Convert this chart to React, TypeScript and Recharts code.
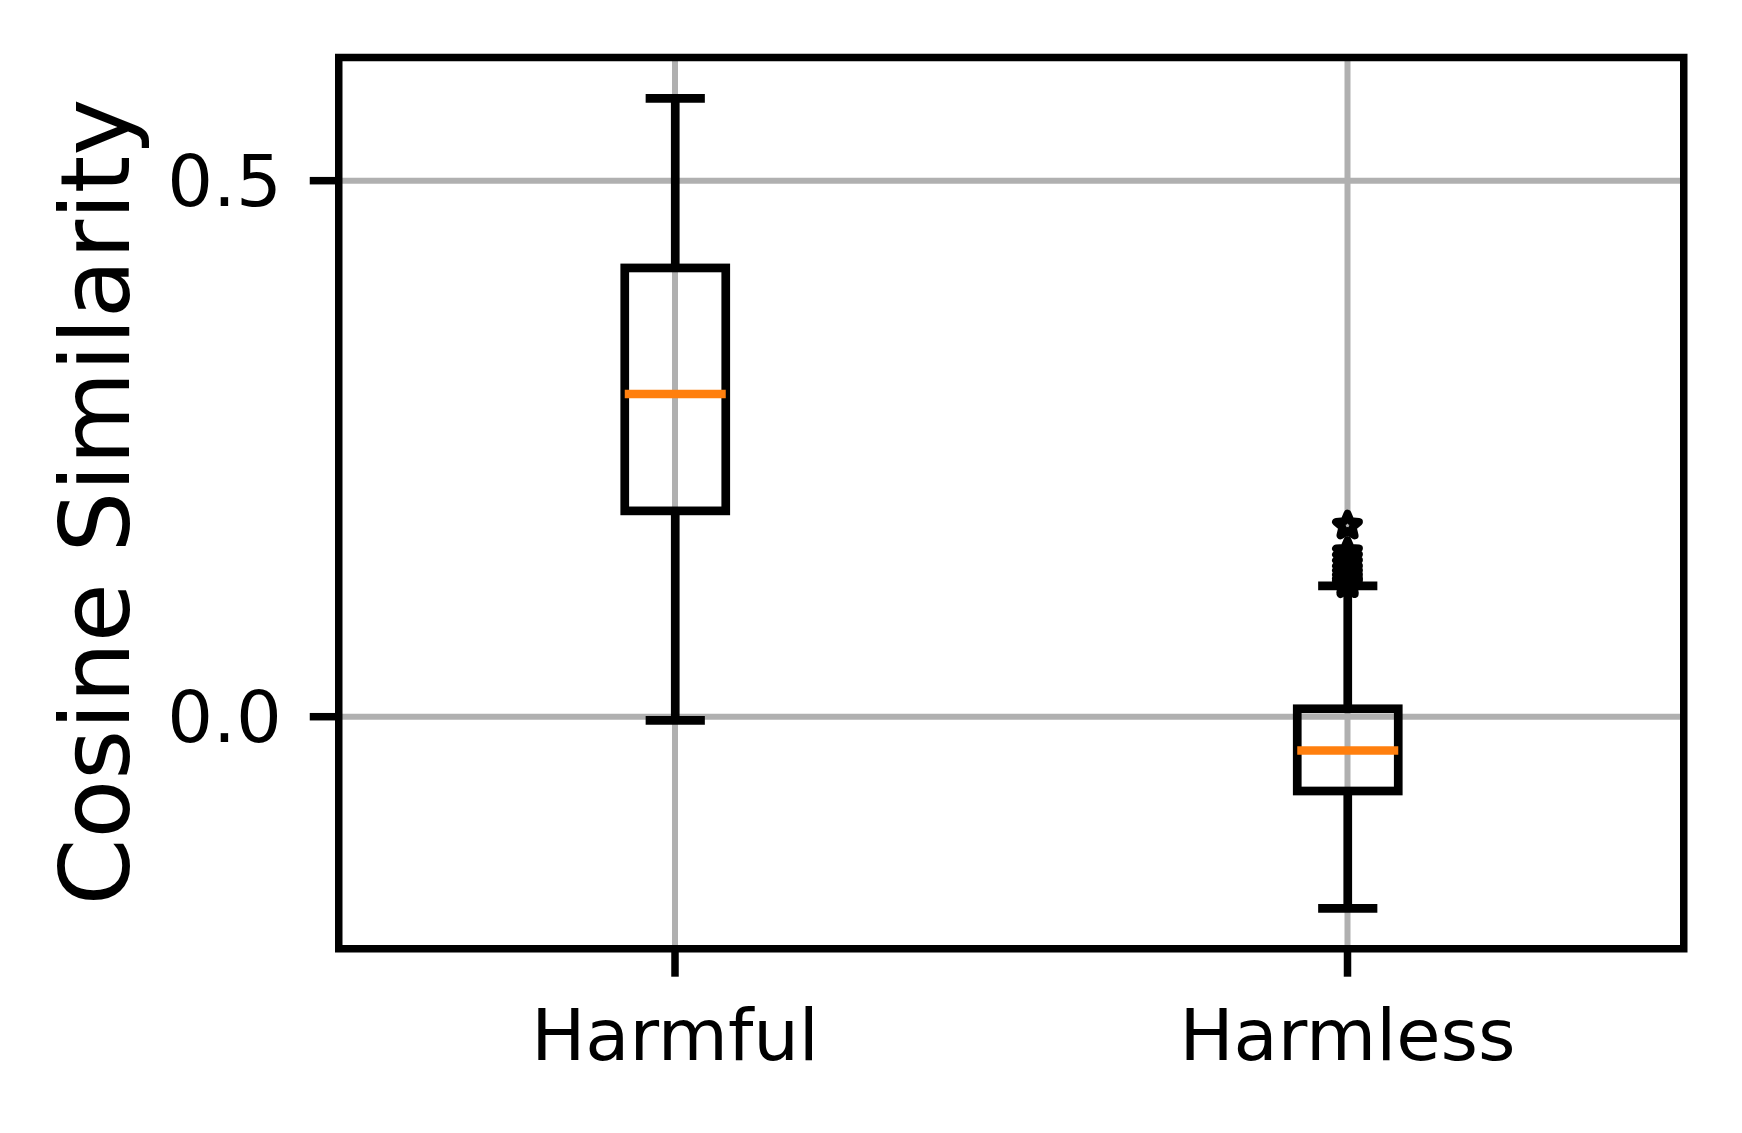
import { ComposedChart, Bar, Scatter, XAxis, YAxis, CartesianGrid, ReferenceArea, Label } from 'recharts'

// box plot stats
const categories = ['Harmful', 'Harmless']
const whiskerLow = [-0.0034, -0.1787]
const boxQ1 = [0.192, -0.0693]
const medians = [0.301, -0.0315]
const boxQ3 = [0.4186, 0.0074]
const whiskerHigh = [0.5767, 0.1221]
const harmlessOutliers = [0.1782, 0.1534, 0.1478, 0.1425, 0.1372, 0.133, 0.129, 0.1255, 0.1235]

const yTicks = [0, 0.5]
const yDomain: [number, number] = [-0.2164, 0.6149]

const boxData = categories.map((name, i) => ({
  name,
  range: [whiskerLow[i], whiskerHigh[i]],
  lo: whiskerLow[i],
  q1: boxQ1[i],
  med: medians[i],
  q3: boxQ3[i],
  hi: whiskerHigh[i],
}))

const outlierData = harmlessOutliers.map((v) => ({ name: 'Harmless', v }))

const FONT = 'DejaVu Sans'
const LW = 7.5 // spines, ticks
const BOX_LW = 8.7 // box, whiskers, caps, median

const BoxShape = (props: any) => {
  const { x, y, width, height, payload } = props
  const { lo, q1, med, q3, hi } = payload
  const top = Math.min(y, y + height)
  const h = Math.abs(height)
  const k = h / (hi - lo)
  const py = (v: number) => top + (hi - v) * k
  const cx = x + width / 2
  const cap = width / 4
  return (
    <g>
      <line x1={cx} x2={cx} y1={py(q3)} y2={py(hi)} stroke="#000" strokeWidth={BOX_LW} />
      <line x1={cx} x2={cx} y1={py(q1)} y2={py(lo)} stroke="#000" strokeWidth={BOX_LW} />
      <line x1={cx - cap} x2={cx + cap} y1={py(hi)} y2={py(hi)} stroke="#000" strokeWidth={BOX_LW} strokeLinecap="square" />
      <line x1={cx - cap} x2={cx + cap} y1={py(lo)} y2={py(lo)} stroke="#000" strokeWidth={BOX_LW} strokeLinecap="square" />
      <rect x={x} y={py(q3)} width={width} height={py(q1) - py(q3)} fill="none" stroke="#000" strokeWidth={BOX_LW} />
      <line x1={x} x2={x + width} y1={py(med)} y2={py(med)} stroke="#ff7f0e" strokeWidth={BOX_LW} />
    </g>
  )
}

const Star = (props: any) => {
  const { cx, cy } = props
  const R = 12
  const pts: string[] = []
  for (let i = 0; i < 10; i++) {
    const r = i % 2 ? R * 0.45 : R
    const a = -Math.PI / 2 + (i * Math.PI) / 5
    pts.push(`${cx + r * Math.cos(a)},${cy + r * Math.sin(a)}`)
  }
  return <polygon points={pts.join(' ')} fill="none" stroke="#000" strokeWidth={8} strokeLinejoin="round" />
}

export default function App() {
  return (
    <div style={{ position: 'absolute', left: 0, top: 0 }}>
      <ComposedChart
        width={1742}
        height={1133}
        data={boxData}
        margin={{ top: 57.5, right: 58.25, bottom: 0, left: 0 }}
      >
        <CartesianGrid stroke="#b0b0b0" strokeWidth={6} />
        <XAxis
          dataKey="name"
          type="category"
          allowDuplicatedCategory={false}
          height={184.3}
          axisLine={false}
          tickSize={28}
          tickMargin={32}
          tickLine={{ stroke: '#000', strokeWidth: LW }}
          tick={{ fill: '#000', fontSize: 72, fontFamily: FONT }}
        />
        <YAxis
          type="number"
          domain={yDomain}
          allowDataOverflow
          ticks={yTicks}
          interval={0}
          width={338.75}
          axisLine={false}
          tickSize={29}
          tickMargin={28}
          tickFormatter={(v: number) => v.toFixed(1)}
          tickLine={{ stroke: '#000', strokeWidth: LW }}
          tick={{ fill: '#000', fontSize: 72, fontFamily: FONT }}
        >
          <Label
            content={({ viewBox }: any) => {
              const lx = viewBox.x + 129
              const ly = viewBox.y + viewBox.height / 2 - 1
              return (
                <text
                  x={lx}
                  y={ly}
                  transform={`rotate(-90, ${lx}, ${ly})`}
                  textAnchor="middle"
                  fontSize={96}
                  fontFamily={FONT}
                  fill="#000"
                >
                  Cosine Similarity
                </text>
              )
            }}
          />
        </YAxis>
        <Bar dataKey="range" barSize={101} shape={<BoxShape />} isAnimationActive={false} />
        <Scatter data={outlierData} dataKey="v" shape={<Star />} isAnimationActive={false} />
        <ReferenceArea
          y1={yDomain[0]}
          y2={yDomain[1]}
          fill="none"
          fillOpacity={0}
          stroke="#000"
          strokeWidth={LW}
          ifOverflow="visible"
        />
      </ComposedChart>
    </div>
  )
}
